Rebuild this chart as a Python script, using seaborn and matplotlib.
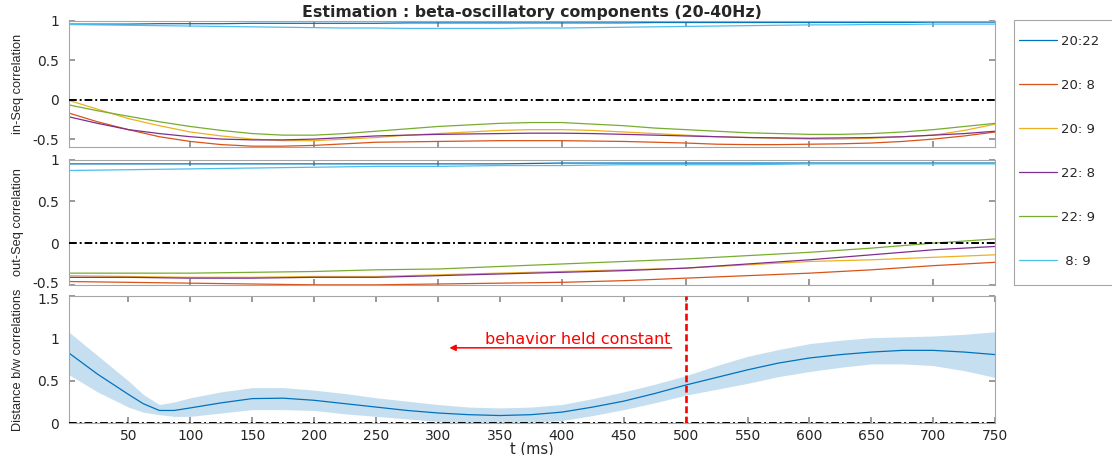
import numpy as np
import pandas as pd
import seaborn as sns
import matplotlib.pyplot as plt
import matplotlib.transforms as mtransforms
from matplotlib.lines import Line2D
from matplotlib.patches import Rectangle

pairs = ["20:22", "20: 8", "20: 9", "22: 8", "22: 9", " 8: 9"]
colors = ["#0072BD", "#D95319", "#EDB120", "#7E2F8E", "#77AC30", "#4DBEEE"]

# in-Seq correlation, read every 25 ms
t_in = list(range(0, 751, 25))
in_2022 = [0.96, 0.96, 0.96, 0.965, 0.965, 0.965, 0.97, 0.97, 0.97, 0.97, 0.97, 0.975, 0.975, 0.975, 0.975, 0.975,
           0.975, 0.975, 0.975, 0.98, 0.98, 0.98, 0.98, 0.98, 0.98, 0.98, 0.98, 0.98, 0.985, 0.985, 0.985]
in_2008 = [-0.16, -0.28, -0.38, -0.47, -0.53, -0.57, -0.59, -0.59, -0.58, -0.56, -0.54, -0.535, -0.53, -0.525, -0.52, -0.52,
           -0.52, -0.525, -0.53, -0.54, -0.55, -0.565, -0.57, -0.57, -0.565, -0.56, -0.55, -0.53, -0.50, -0.46, -0.41]
in_2009 = [0.0, -0.12, -0.24, -0.33, -0.41, -0.46, -0.50, -0.52, -0.52, -0.50, -0.48, -0.45, -0.43, -0.41, -0.39, -0.38,
           -0.38, -0.39, -0.41, -0.43, -0.45, -0.47, -0.48, -0.49, -0.50, -0.50, -0.49, -0.47, -0.45, -0.39, -0.31]
in_2208 = [-0.21, -0.30, -0.38, -0.43, -0.47, -0.50, -0.51, -0.51, -0.50, -0.48, -0.46, -0.45, -0.44, -0.435, -0.43, -0.425,
           -0.425, -0.43, -0.44, -0.45, -0.46, -0.47, -0.48, -0.485, -0.49, -0.485, -0.48, -0.47, -0.45, -0.43, -0.40]
in_2209 = [-0.06, -0.14, -0.21, -0.28, -0.34, -0.39, -0.43, -0.45, -0.45, -0.43, -0.40, -0.37, -0.34, -0.32, -0.30, -0.29,
           -0.29, -0.31, -0.33, -0.36, -0.38, -0.40, -0.42, -0.43, -0.44, -0.44, -0.43, -0.41, -0.38, -0.34, -0.30]
in_0809 = [0.955, 0.95, 0.945, 0.94, 0.935, 0.93, 0.925, 0.92, 0.915, 0.91, 0.91, 0.905, 0.905, 0.905, 0.905, 0.91,
           0.91, 0.915, 0.92, 0.925, 0.93, 0.935, 0.94, 0.945, 0.95, 0.95, 0.955, 0.955, 0.96, 0.96, 0.96]

# out-Seq correlation, read every 50 ms
t_out = list(range(0, 751, 50))
out_2022 = [0.95, 0.95, 0.95, 0.95, 0.95, 0.95, 0.95, 0.95, 0.96, 0.96, 0.96, 0.96, 0.96, 0.96, 0.96, 0.96]
out_2008 = [-0.46, -0.47, -0.48, -0.49, -0.50, -0.50, -0.49, -0.48, -0.47, -0.45, -0.42, -0.39, -0.36, -0.32, -0.27, -0.23]
out_2009 = [-0.39, -0.40, -0.41, -0.41, -0.40, -0.40, -0.38, -0.36, -0.34, -0.32, -0.30, -0.26, -0.22, -0.20, -0.17, -0.14]
out_2208 = [-0.41, -0.41, -0.42, -0.42, -0.41, -0.41, -0.39, -0.37, -0.35, -0.33, -0.30, -0.25, -0.20, -0.14, -0.08, -0.04]
out_2209 = [-0.36, -0.36, -0.36, -0.35, -0.34, -0.32, -0.31, -0.28, -0.25, -0.22, -0.19, -0.15, -0.11, -0.06, 0.00, 0.05]
out_0809 = [0.87, 0.88, 0.89, 0.90, 0.91, 0.92, 0.92, 0.93, 0.93, 0.94, 0.94, 0.94, 0.95, 0.95, 0.95, 0.95]

# distance between correlations (mean and band)
t_dist = [0, 25, 50, 62, 75, 87, 100, 125, 150, 175, 200, 225, 250, 275, 300, 325, 350, 375,
          400, 425, 450, 475, 500, 525, 550, 575, 600, 625, 650, 675, 700, 725, 750]
dist_mean = [0.85, 0.58, 0.34, 0.23, 0.15, 0.15, 0.18, 0.24, 0.29, 0.295, 0.27, 0.23, 0.19, 0.15, 0.12, 0.10, 0.09, 0.10,
             0.13, 0.19, 0.26, 0.35, 0.45, 0.54, 0.63, 0.71, 0.77, 0.81, 0.84, 0.86, 0.86, 0.84, 0.81]
dist_upper = [1.10, 0.80, 0.50, 0.34, 0.22, 0.25, 0.30, 0.37, 0.42, 0.42, 0.39, 0.35, 0.30, 0.26, 0.22, 0.19, 0.18, 0.19,
              0.22, 0.29, 0.37, 0.46, 0.56, 0.68, 0.79, 0.87, 0.94, 0.98, 1.01, 1.02, 1.03, 1.05, 1.08]
dist_lower = [0.59, 0.37, 0.19, 0.13, 0.10, 0.08, 0.08, 0.12, 0.16, 0.16, 0.15, 0.11, 0.08, 0.05, 0.02, 0.01, 0.01, 0.01,
              0.03, 0.09, 0.16, 0.24, 0.33, 0.40, 0.47, 0.55, 0.61, 0.66, 0.70, 0.70, 0.68, 0.62, 0.54]


def long_df(ts, series):
    rows = []
    for name, vals in zip(pairs, series):
        for t, v in zip(ts, vals):
            rows.append({"t": t, "r": v, "pair": name})
    return pd.DataFrame(rows)


df_in = long_df(t_in, [in_2022, in_2008, in_2009, in_2208, in_2209, in_0809])
df_out = long_df(t_out, [out_2022, out_2008, out_2009, out_2208, out_2209, out_0809])
df_dist = pd.DataFrame({"t": t_dist, "d": dist_mean, "lo": dist_lower, "hi": dist_upper})

sns.set_theme(style="ticks")
plt.rcParams["font.family"] = ["DejaVu Sans"]
plt.rcParams["font.size"] = 10

fig = plt.figure(figsize=(11.12, 4.55), dpi=100)
ax1 = fig.add_axes([0.062, 0.677, 0.833, 0.277])
ax2 = fig.add_axes([0.062, 0.374, 0.833, 0.275])
ax3 = fig.add_axes([0.062, 0.070, 0.833, 0.279])

pal = dict(zip(pairs, colors))
sns.lineplot(data=df_in, x="t", y="r", hue="pair", hue_order=pairs, palette=pal,
             lw=0.9, legend=False, ax=ax1)
sns.lineplot(data=df_out, x="t", y="r", hue="pair", hue_order=pairs, palette=pal,
             lw=0.9, legend=False, ax=ax2)

ax3.fill_between(df_dist["t"], df_dist["lo"], df_dist["hi"], color="#c6dff0", lw=0)
sns.lineplot(data=df_dist, x="t", y="d", color="#0072BD", lw=0.9, ax=ax3)

zero_style = dict(color="black", lw=1.4, ls=(0, (4, 1.5, 1, 1.5)), zorder=3)
for ax in (ax1, ax2, ax3):
    ax.axhline(0, **zero_style)

ax3.axvline(500, color="red", lw=1.9, ls=(0, (2.6, 1.3)), zorder=4)
ax3.annotate("", xy=(307, 0.89), xytext=(491, 0.89),
             arrowprops=dict(arrowstyle="-|>", color="red", lw=1.1, mutation_scale=9))
ax3.text(488, 0.985, "behavior held constant", color="red", ha="right", va="center", fontsize=11.5)

for ax in (ax1, ax2, ax3):
    ax.set_xlim(2, 750)
    ax.tick_params(direction="in", top=True, right=True, length=4, color="#8c8c8c",
                   labelsize=10, labelcolor="#262626")
    ax.tick_params(axis="y", pad=7)
    ax.tick_params(axis="x", pad=4)
    for sp in ax.spines.values():
        sp.set_visible(True)
        sp.set_color("#a6a6a6")
        sp.set_linewidth(0.8)

ax1.set_ylim(-0.6, 1.0)
ax2.set_ylim(-0.5, 1.0)
ax3.set_ylim(0, 1.5)
for ax in (ax1, ax2):
    ax.set_yticks([-0.5, 0, 0.5, 1])
    ax.set_yticklabels(["-0.5", "0", "0.5", "1"])
    ax.set_xticks(range(100, 701, 100))
    ax.set_xticklabels([])
    ax.set_xlabel("")
ax3.set_yticks([0, 0.5, 1, 1.5])
ax3.set_yticklabels(["0", "0.5", "1", "1.5"])
ax3.set_xticks(range(50, 751, 50))

# nudge the two crowded tick labels between the middle and bottom panels apart
up = mtransforms.ScaledTranslation(0, 2.5 / 100, fig.dpi_scale_trans)
down = mtransforms.ScaledTranslation(0, -2.5 / 100, fig.dpi_scale_trans)
lbl = ax2.get_yticklabels()[0]
lbl.set_transform(lbl.get_transform() + up)
lbl = ax3.get_yticklabels()[-1]
lbl.set_transform(lbl.get_transform() + down)

ylab_font = dict(fontsize=9.2, family=["Liberation Sans Narrow", "Liberation Sans"])
ax1.set_ylabel("in-Seq correlation", **ylab_font)
ax2.set_ylabel("out-Seq correlation", **ylab_font)
ax3.set_ylabel("Distance b/w correlations", **ylab_font)
ax3.set_xlabel("t (ms)", fontsize=10.5, labelpad=-1)
ax1.set_title("Estimation : beta-oscillatory components (20-40Hz)", fontsize=11.3,
              fontweight="bold", pad=3)
for ax in (ax1, ax2, ax3):
    ax.yaxis.set_label_coords(-0.0486, 0.5)

# legend: frame drawn separately so the handles can sit near the left edge
handles = [Line2D([], [], color=c, lw=0.9) for c in colors]
fig.legend(handles, pairs, loc="upper left", bbox_to_anchor=(1019 / 1112, 1 - 35 / 455),
           frameon=False, fontsize=9.5, labelspacing=2.35, handlelength=2.9,
           handletextpad=0.3, borderpad=0, borderaxespad=0)
fig.patches.append(Rectangle((1014 / 1112, (455 - 285) / 455), 120 / 1112, 265 / 455,
                             transform=fig.transFigure, fill=False, edgecolor="#a6a6a6", lw=0.8))

fig.savefig("out.png", dpi=100)
